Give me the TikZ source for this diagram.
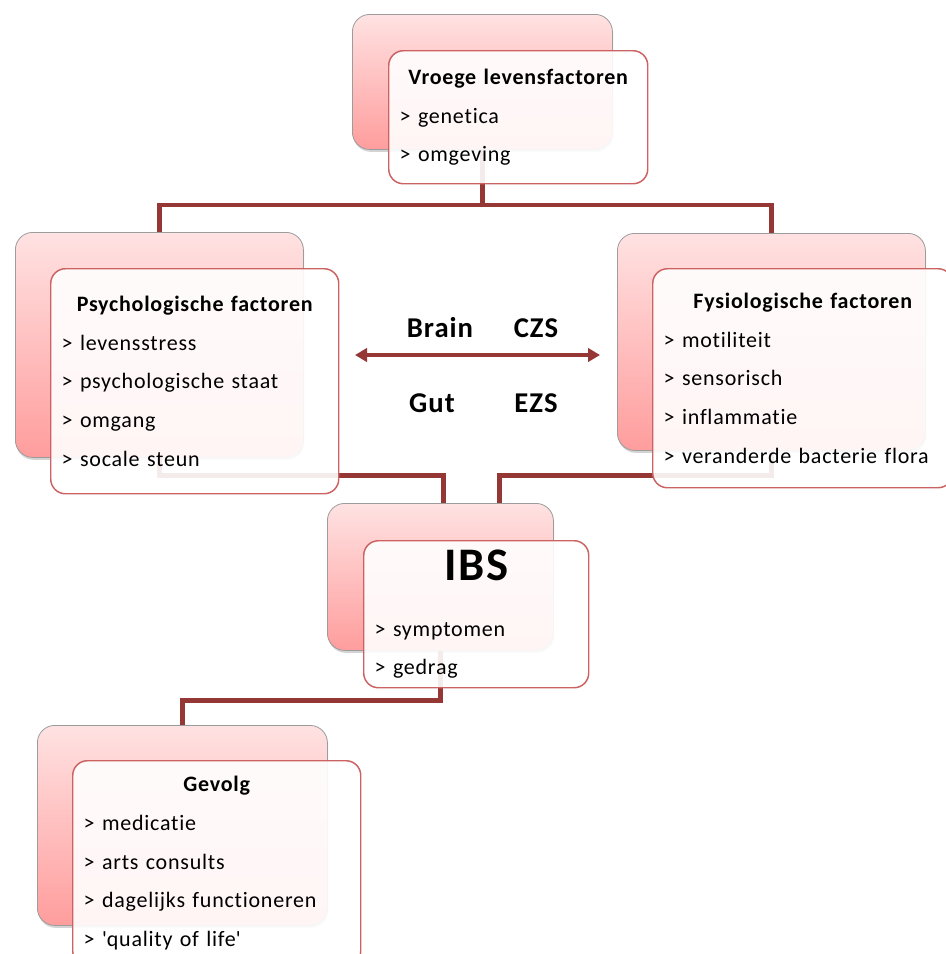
\documentclass[tikz,border=0pt]{standalone}
\usepackage{fontspec}
\setmainfont{Carlito}[LetterSpace=3.5, Ligatures=NoCommon]
\usetikzlibrary{arrows.meta,positioning,shadows,calc}
\definecolor{IBSRed}{HTML}{CC6262}
\definecolor{IBSDark}{HTML}{953735}
\definecolor{IBSPinkTop}{HTML}{FFE2E2}
\definecolor{IBSPinkBot}{HTML}{FF9D9D}
\definecolor{IBSGray}{HTML}{9C9C9C}
\newcommand{\ibsbody}{\fontsize{16.5}{29}\selectfont}
\newcommand{\ibshead}[1]{{\centering\bfseries #1\par}}
\tikzset{
ibsback/.style 2 args={draw=IBSGray, line width=0.6pt, rounded corners=13pt,
  top color=IBSPinkTop, bottom color=IBSPinkBot, anchor=north west, inner sep=0pt,
  minimum width=#1*0.75pt, minimum height=#2*0.75pt,
  drop shadow={shadow xshift=0.6pt, shadow yshift=-1.8pt, opacity=0.35}},
ibsfront/.style 2 args={draw=IBSRed, line width=1.1pt, rounded corners=11pt,
  fill=white, fill opacity=0.9, text opacity=1, anchor=north west,
  inner xsep=8.25pt, inner ysep=0pt, minimum width=#1*0.75pt, minimum height=#2*0.75pt,
  text width=#1*0.75pt-16.5pt, font=\ibsbody},
ibslink/.style={draw=IBSDark, line width=3.6pt},
ibsarrow/.style={{Triangle[length=9pt,width=10pt]}-{Triangle[length=9pt,width=10pt]},
  draw=IBSDark, fill=IBSDark, line width=3pt},
ibslabel/.style={font=\fontsize{21.5}{24}\selectfont\bfseries, inner sep=0pt}
}

\begin{document}
\begin{tikzpicture}[x=0.75pt, y=-0.75pt]
\useasboundingbox (0,0) rectangle (946,954);
\clip (0,0) rectangle (946,954);
\node[ibsback={260}{135}] (vroegeB) at (352,14) {};
\node[ibsback={288}{225}] (psyB) at (15,232) {};
\node[ibsback={308}{217}] (fysB) at (617,233) {};
\node[ibsback={226}{147}] (ibsB) at (327,503) {};
\node[ibsback={290}{200}] (gevolgB) at (37,725) {};
\draw[ibslink] (vroegeB.south) -- ++(0,56);
\draw[ibslink] (psyB.north) -- ++(0,-27) -| (fysB.north);
\draw[ibslink] (psyB.south) -- ++(0,18) -| ($(ibsB.north west)!0.513!(ibsB.north east)$);
\draw[ibslink] (fysB.south) -- ++(0,25) -| ($(ibsB.north west)!0.76!(ibsB.north east)$);
\draw[ibslink] (ibsB.south) -- ++(0,50) -| (gevolgB.north);
\coordinate (axisL) at (355,355);
\coordinate (axisR) at (600,355);
\draw[ibsarrow] (axisL) -- (axisR);
\node[ibslabel] (brain) at (440,328) {Brain};
\node[ibslabel] (czs) at (536,328) {CZS};
\node[ibslabel] (gut) at (432,403) {Gut};
\node[ibslabel] (ezs) at (536,403) {EZS};
\node[ibsfront={259}{133}] (vroegeF) at (388,50) {\ibshead{Vroege levensfactoren}> genetica\par > omgeving};
\node[ibsfront={288}{225}] (psyF) at (50,268) {\ibshead{Psychologische factoren}> levensstress\par > psychologische staat\par > omgang\par > socale steun};
\node[ibsfront={300}{219}] (fysF) at (652,268) {\ibshead{Fysiologische factoren}> motiliteit\par > sensorisch\par > inflammatie\par > veranderde bacterie flora};
\node[ibsfront={225}{147}] (ibsF) at (363,540) {{\centering\fontsize{35}{40}\selectfont\bfseries IBS\par}\vspace{13pt}> symptomen\par > gedrag};
\node[ibsfront={288}{205}] (gevolgF) at (72,760) {\ibshead{Gevolg}> medicatie\par > arts consults\par > dagelijks functioneren\par > \textquotesingle quality of life\textquotesingle};
\end{tikzpicture}
\end{document}
